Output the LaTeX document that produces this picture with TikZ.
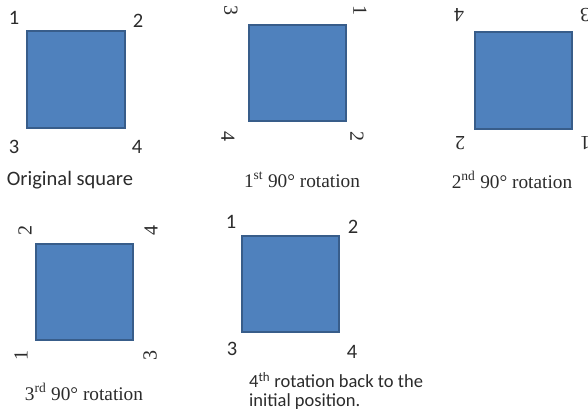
\documentclass[tikz,border=0pt]{standalone}
\usepackage{fontspec}
\setmainfont{Carlito}
\newfontfamily\serifb{Liberation Serif}
\begin{document}
\begin{tikzpicture}[x=1pt,y=-1pt,
  sq/.style={draw=sqline,fill=sqfill,line width=1.2pt},
  lab/.style={inner sep=0pt,text=txt,font=\fontsize{20.5}{22}\selectfont},
  slab/.style={inner sep=0pt,text=txt,font=\serifb\fontsize{20}{22}\selectfont},
  captxt/.style={inner sep=0pt,text=txt,font=\fontsize{20.5}{22}\selectfont},
  scaptxt/.style={inner sep=0pt,text=txt,font=\serifb\fontsize{19.3}{20}\selectfont}]
\definecolor{sqfill}{HTML}{4F81BD}
\definecolor{sqline}{HTML}{385D8A}
\definecolor{txt}{HTML}{2B2B2B}
\useasboundingbox (0,0) rectangle (588,417);
% square 1
\path[sq] (27,31) rectangle (125,128);
\node[lab] (a1) at (14,18) {1};
\node[lab] (a2) at (138,21) {2};
\node[lab] (a3) at (14,147) {3};
\node[lab] (a4) at (137,147) {4};
\node[captxt] (ca) at (70,180) {Original square};
% square 2
\path[sq] (249,25) rectangle (346,121);
\node[slab,rotate=-90] (b3) at (231,11) {3};
\node[slab,rotate=-90] (b1) at (360,11) {1};
\node[slab,rotate=-90] (b4) at (228,136) {4};
\node[slab,rotate=-90] (b2) at (357,136) {2};
\node[scaptxt] (cb) at (302,180) {1\textsuperscript{st} 90° rotation};
% square 3
\path[sq] (475,32) rectangle (572,129);
\node[slab,rotate=180] (c4) at (459,15) {4};
\node[slab,rotate=180] (c3) at (585,15) {3};
\node[slab,rotate=180] (c2) at (460,143) {2};
\node[slab,rotate=180] (c1) at (585,143) {1};
\node[scaptxt] (cc) at (512,180) {2\textsuperscript{nd} 90° rotation};
% square 4
\path[sq] (36,244) rectangle (133,340);
\node[slab,rotate=90] (d2) at (25,230) {2};
\node[slab,rotate=90] (d4) at (151,230) {4};
\node[slab,rotate=90] (d1) at (21,355) {1};
\node[slab,rotate=90] (d3) at (150,355) {3};
\node[scaptxt] (cd) at (84,392) {3\textsuperscript{rd} 90° rotation};
% square 5
\path[sq] (242,236) rectangle (339,332);
\node[lab] (e1) at (231,222) {1};
\node[lab] (e2) at (353,227) {2};
\node[lab] (e3) at (232,349) {3};
\node[lab] (e4) at (352,352) {4};
\node[inner sep=0pt,text=txt,font=\fontsize{18.5}{19}\selectfont,anchor=north west,align=left] (ce) at (249,372) {4\textsuperscript{th} rotation back to the\\initial position.};
\end{tikzpicture}
\end{document}
